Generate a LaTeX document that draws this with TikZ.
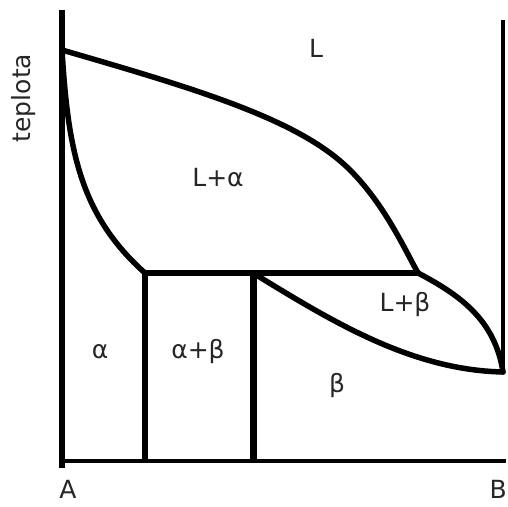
\documentclass[tikz,border=0pt]{standalone}
\usepackage{fontspec}
\setmainfont{DejaVu Sans}
\begin{document}
\begin{tikzpicture}[x=1pt,y=-1pt,
  curve/.style={line width=5.5pt,line join=round,line cap=round},
  lbl/.style={font=\fontsize{25}{27}\selectfont,text=black!85,inner sep=0pt}]
\useasboundingbox (0,0) rectangle (508,506);
% key points
\coordinate (top) at (62,10);
\coordinate (axbot) at (62,468);
\coordinate (TA) at (62,50);
\coordinate (E1) at (145,273);
\coordinate (E2) at (253,273);
\coordinate (E) at (418,273);
\coordinate (TB) at (503,372);
\coordinate (BL) at (62,461);
\coordinate (B1) at (145,461);
\coordinate (B2) at (253,461);
\coordinate (BR) at (506,461);
\coordinate (RT) at (503,20);
% axes
\draw[line width=5.5pt] (top) -- (axbot);
\draw[line width=4.5pt] (BL) -- (BR);
\draw[line width=4.5pt] (RT) -- (TB);
% liquidus
\draw[curve] (TA) .. controls (200,90) and (300,120) .. (350,170) .. controls (385,205) and (405,250) .. (E);
\draw[curve] (E) .. controls (460,295) and (495,320) .. (TB);
% alpha solidus
\draw[curve] (TA) .. controls (68,150) and (80,215) .. (E1);
% eutectic
\draw[curve] (E1) -- (E);
% verticals
\draw[line width=5.5pt] (E1) -- (B1);
\draw[line width=7pt] (E2) -- (B2);
% beta solidus
\draw[curve] (E2) .. controls (330,320) and (410,370) .. (TB);
% labels
\node[lbl] (lL) at (316,48) {L};
\node[lbl] (lLa) at (218,178) {L+α};
\node[lbl] (lLb) at (405,305) {L+β};
\node[lbl] (la) at (100,352) {α};
\node[lbl] (lab) at (198,352) {α+β};
\node[lbl] (lb) at (337,386) {β};
\node[lbl,rotate=90] (temp) at (24,98) {teplota};
\node[lbl] (lA) at (68,489) {A};
\node[lbl,anchor=east] (lB) at (507,489) {B};
\end{tikzpicture}
\end{document}
